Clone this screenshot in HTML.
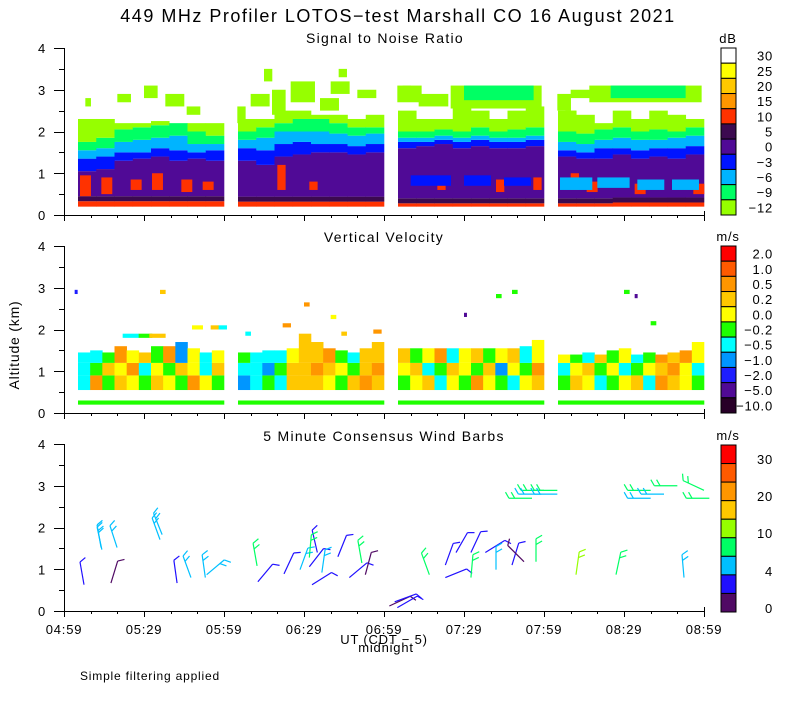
<!DOCTYPE html>
<html><head><meta charset="utf-8">
<style>
body{margin:0;background:#fff;}
svg text{font-family:"Liberation Sans",sans-serif;fill:#000;letter-spacing:0.8px;}
</style></head>
<body>
<svg id="chart" width="800" height="700" viewBox="0 0 800 700" xmlns="http://www.w3.org/2000/svg">
<rect width="800" height="700" fill="#fff"/>
<text x="398" y="22" font-size="18" text-anchor="middle" style="letter-spacing:1.5px">449 MHz Profiler LOTOS−test Marshall CO 16 August 2021</text>
<text x="385" y="43" font-size="14" text-anchor="middle" style="letter-spacing:1.3px">Signal to Noise Ratio</text>
<text x="384" y="242" font-size="14" text-anchor="middle" style="letter-spacing:1.3px">Vertical Velocity</text>
<text x="384" y="441" font-size="14" text-anchor="middle" style="letter-spacing:1.3px">5 Minute Consensus Wind Barbs</text>
<text x="0" y="0" font-size="14" text-anchor="middle" transform="translate(19,345) rotate(-90)">Altitude (km)</text>
<text x="384" y="644" font-size="13" text-anchor="middle">UT  (CDT − 5)</text>
<text x="386" y="652" font-size="13" text-anchor="middle">midnight</text>
<text x="80" y="680" font-size="12">Simple filtering applied</text>
<g id="g"></g>
</svg>
<script>
// ---- data ----
const xTickLabels = ["04:59","05:29","05:59","06:29","06:59","07:29","07:59","08:29","08:59"];
const yTickLabels = ["0","1","2","3","4"];
const blockStart = [5.25, 65.25, 125.25, 185.25];
const blockLen = 54.75;
const snrColors = ["#ffffff","#ffff00","#ffc800","#ff9600","#ff3200","#3c0a50","#500a96","#0014ff","#00b4ff","#00ff64","#96ff00"];
const snrLabels = ["30","25","20","15","10","5","0","−3","−6","−9","−12"];
const velColors = ["#ff0000","#ff5a00","#ff9600","#ffc800","#ffff00","#1eff00","#00ffff","#0096ff","#1e1eff","#500a96","#280028"];
const velLabels = ["2.0","1.0","0.5","0.2","0.0","−0.2","−0.5","−1.0","−2.0","−5.0","−10.0"];
const windColors = ["#ff0000","#ff5a00","#ff9600","#ffc800","#96ff00","#00ff64","#00c0ff","#2010ff","#500a64"];
const windLabels = ["30","20","10","4","0"];

const snrRedTop = [0.33,0.33,0.33,0.33,0.33,0.33,0.33,0.33, 0.32,0.32,0.32,0.32,0.32,0.32,0.32,0.32, 0.28,0.28,0.28,0.28,0.28,0.28,0.28,0.28, 0.28,0.28,0.28,0.3,0.3,0.3,0.3,0.3];
const snrPurpleTop = [1.05,1.1,1.3,1.35,1.4,1.3,1.35,1.3, 1.3,1.2,1.4,1.45,1.5,1.5,1.45,1.5, 1.6,1.65,1.7,1.6,1.65,1.6,1.6,1.65, 1.4,1.35,1.35,1.45,1.35,1.4,1.35,1.45];
const snrBlueTop = [1.35,1.4,1.5,1.5,1.6,1.55,1.5,1.55, 1.6,1.55,1.7,1.75,1.7,1.7,1.65,1.7, 1.75,1.75,1.8,1.75,1.8,1.75,1.75,1.8, 1.55,1.5,1.6,1.6,1.55,1.6,1.6,1.65];
const snrCyanTop = [1.55,1.6,1.75,1.8,1.85,1.9,1.7,1.7, 1.8,1.85,2.0,2.0,2.0,1.95,1.9,1.95, 1.85,1.85,1.9,1.85,1.9,1.85,1.85,1.9, 1.75,1.7,1.8,1.85,1.8,1.8,1.85,1.9];
const snrGreenTop = [1.75,1.85,2.05,2.1,2.15,2.2,2.0,1.9, 2.0,2.1,2.2,2.3,2.3,2.2,2.1,2.1, 2.0,2.0,2.05,2.0,2.1,2.0,2.05,2.1, 2.0,1.95,2.05,2.1,2.0,2.05,2.0,2.1];
const snrLimeTop = [2.3,2.3,2.2,2.2,2.25,2.2,2.2,2.2, 2.3,2.3,2.5,2.5,2.4,2.4,2.3,2.4, 2.5,2.3,2.3,2.6,2.5,2.3,2.5,2.6, 2.5,2.4,2.2,2.5,2.3,2.5,2.4,2.3];
// patches: start minute, end minute, bottom km, top km, colour index
const patchT0 = [6,14,25,33,44,52,80,92,140,162,176,190,196,214,236, 130,150,165, 186,200,215,228, 8,20,30,38,46, 65,70,78,85,96,100,110,75,103, 125,133,145,150,127, 185,190,197,205,188];
const patchT1 = [10,18,29,37,48,56,83,95,143,165,179,193,200,218,240, 145,160,175, 198,212,225,238, 10,25,35,45,51, 68,77,83,94,103,107,117,78,106, 134,144,179,176,130, 190,199,239,233,192];
const patchK0 = [0.45,0.5,0.6,0.6,0.55,0.6,0.6,0.6,0.6,0.55,0.6,0.6,0.55,0.5,0.5, 0.7,0.7,0.7, 0.6,0.65,0.6,0.6, 2.6,2.7,2.8,2.6,2.4, 2.2,2.6,2.4,2.7,2.5,2.9,2.8,3.2,3.3, 2.7,2.6,2.55,2.75,2.9, 2.5,2.8,2.7,2.8,2.3];
const patchK1 = [0.95,0.9,0.85,1.0,0.85,0.8,1.2,0.8,0.9,0.85,0.9,1.0,0.8,0.75,0.75, 0.95,0.95,0.9, 0.9,0.9,0.85,0.85, 2.8,2.9,3.1,2.9,2.6, 2.6,2.9,3.0,3.2,2.8,3.2,3.0,3.5,3.5, 3.1,2.9,3.1,3.1,3.1, 2.9,3.0,3.1,3.1,2.5];
const patchC = [4,4,4,4,4,4,4,4,4,4,4,4,4,4,4, 7,7,7, 8,8,8,8, 10,10,10,10,10, 10,10,10,10,10,10,10,10,10, 10,10,10,9,10, 10,10,10,9,10];

const velLow = [6,2,5,3,4,5,3,4,5,2,4,5, 7,6,5,6,3,3,3,4,5,3,2,3, 5,4,3,6,4,5,2,4,5,6,4,3, 5,3,4,6,5,4,3,6,2,3,4,5];
const velMid = [6,5,3,4,2,6,4,5,3,4,6,3, 6,6,7,5,3,3,2,3,4,5,3,2, 4,3,6,5,3,4,5,3,7,4,5,2, 6,4,3,5,4,6,5,4,3,2,4,6];
const velHigh = [6,6,5,2,4,3,5,2,7,4,6,4, 5,6,6,6,4,3,3,2,5,6,3,3, 3,5,4,2,6,4,3,5,4,3,6,4, 4,5,6,3,5,4,6,5,2,3,2,4];
const velTop = [1.45,1.5,1.45,1.6,1.5,1.45,1.6,1.6,1.7,1.55,1.45,1.5, 1.45,1.45,1.5,1.5,1.55,1.9,1.7,1.55,1.5,1.45,1.55,1.7, 1.55,1.55,1.55,1.55,1.55,1.55,1.55,1.55,1.55,1.55,1.6,1.75, 1.4,1.4,1.45,1.4,1.5,1.55,1.4,1.45,1.4,1.45,1.5,1.7];
const vpT = [22,28,32,48,55,58,36,4,68,82,90,116,104,100,150,162,168,210,214,220];
const vpK = [1.8,1.8,1.8,2.0,2.0,2.0,2.85,2.85,1.85,2.05,2.55,1.9,1.85,2.25,2.3,2.75,2.85,2.85,2.75,2.1];
const vpW = [6,5,6,4,3,3,2,1,2,3,2,3,2,2,1,2,2,2,1,2];
const vpC = [6,5,3,4,3,6,3,8,6,2,2,2,3,4,9,5,5,5,9,5];

// wind barbs: minute, km, speed (m/s), direction angle (deg, 0 = staff up, clockwise)
const wbT = [7.5,13.9,14.2,19.9,17.6,36,36.8,42.4,47.6,53,53.5,72.4,72.7,82.5,88.5,92,93,96.7,95,92,102.7,111.7,107,113,122,124,125, 137,143,143,147,152.6,152.6,158,162,168,172.5,177,192,207,232.5, 175.5,185,180,185,179, 220,225,220,230,240,242];
const wbK = [0.63,1.52,1.47,1.52,0.67,1.71,1.83,0.67,0.8,0.8,0.87,1.08,0.7,0.89,0.99,1.06,0.63,0.92,1.4,1.28,1.3,1.15,0.8,0.87,0.12,0.22,0.08, 0.87,1.1,0.8,1.4,1.4,0.8,1.4,0.99,1.1,1.18,1.18,0.87,0.87,0.8, 2.7,2.89,2.89,2.8,2.8, 2.89,2.8,2.7,3.0,2.89,2.7];
const wbS = [3,5,5,5,1.5,5,5,3,5,6,6,8,3,3,5,3,3,5,3,8,3,8,3,1.5,1.5,3,3, 8,3,3,3,3,8,3,5,3,1.5,8,12,8,5, 8,8,8,5,5, 8,5,5,8,8,8];
const wbA = [-10,-10,-12,-18,17,-20,-22,-8,-20,-8,50,-10,40,25,20,38,58,8,-13,5,22,-10,50,15,65,70,60, -20,20,68,30,25,5,58,0,17,-45,0,8,12,-5, -90,-90,-90,-90,-90, -90,-90,-90,-90,-65,-90];

// ---- helpers ----
const NS = "http://www.w3.org/2000/svg";
const G = document.getElementById("g");
const X0 = 64, PX_PER_MIN = 80/30, KM = 41.75;
const panelBase = [215, 413, 611];
function X(m){ return X0 + m*PX_PER_MIN; }
function Y(p,k){ return panelBase[p] - k*KM; }
function mk(tag, attrs, parent){
  const e = document.createElementNS(NS, tag);
  for (const k in attrs) e.setAttribute(k, attrs[k]);
  (parent||G).appendChild(e);
  return e;
}
function band(p,t0,t1,k0,k1,col,parent){
  if (k1<=k0) return null;
  return mk("rect",{x:X(t0).toFixed(2),y:Y(p,k1).toFixed(2),width:(X(t1)-X(t0)+0.3).toFixed(2),height:((k1-k0)*KM).toFixed(2),fill:col},parent);
}

// ---- SNR panel ----
const snrG = mk("g",{});


for (let b=0;b<4;b++){
  for (let c=0;c<8;c++){
    const i=b*8+c, w=blockLen/8, t0=blockStart[b]+c*w, t1=t0+w;
    band(0,t0,t1,0.2,snrRedTop[i],snrColors[4],snrG);
    band(0,t0,t1,snrRedTop[i],snrRedTop[i]+0.12,snrColors[5],snrG);
    band(0,t0,t1,snrRedTop[i]+0.12,snrPurpleTop[i],snrColors[6],snrG);
    band(0,t0,t1,snrPurpleTop[i],snrBlueTop[i],snrColors[7],snrG);
    band(0,t0,t1,snrBlueTop[i],snrCyanTop[i],snrColors[8],snrG);
    band(0,t0,t1,snrCyanTop[i],snrGreenTop[i],snrColors[9],snrG);
    band(0,t0,t1,snrGreenTop[i],snrLimeTop[i],snrColors[10],snrG);
  }
}
for (let i=0;i<patchT0.length;i++){
  const r = band(0,patchT0[i],patchT1[i],patchK0[i],patchK1[i],snrColors[patchC[i]],snrG);
  
}

// ---- velocity panel ----
const velG = mk("g",{});


for (let b=0;b<4;b++){
  band(1,blockStart[b],blockStart[b]+blockLen,0.2,0.3,velColors[5],velG);
  for (let c=0;c<12;c++){
    const i=b*12+c, w=blockLen/12, t0=blockStart[b]+c*w, t1=t0+w;
    band(1,t0,t1,0.55,0.9,velColors[velLow[i]],velG);
    band(1,t0,t1,0.9,1.2,velColors[velMid[i]],velG);
    band(1,t0,t1,1.2,velTop[i],velColors[velHigh[i]],velG);
  }
}
for (let i=0;i<vpT.length;i++){
  const r = band(1,vpT[i],vpT[i]+vpW[i],vpK[i],vpK[i]+0.1,velColors[vpC[i]],velG);
  
}

// ---- wind barbs ----
function windColor(s){
  if (s>=30) return windColors[0]; if (s>=25) return windColors[1]; if (s>=20) return windColors[2];
  if (s>=15) return windColors[3]; if (s>=10) return windColors[4]; if (s>=7) return windColors[5];
  if (s>=4) return windColors[6]; if (s>=2) return windColors[7]; return windColors[8];
}
for (let i=0;i<wbT.length;i++){
  const bx=X(wbT[i]), by=Y(2,wbK[i]), a=wbA[i]*Math.PI/180, L=23;
  const ex=bx+L*Math.sin(a), ey=by-L*Math.cos(a), col=windColor(wbS[i]);
  const g = mk("g",{stroke:col,"stroke-width":1.2,fill:"none"});
  
  
  mk("line",{x1:bx,y1:by,x2:ex,y2:ey},g);
  const nt = wbS[i]>=4?2:1;
  for (let t=0;t<nt;t++){
    const f=1-t*0.25, px=bx+(ex-bx)*f, py=by+(ey-by)*f, ta=a+Math.PI/3;
    mk("line",{x1:px,y1:py,x2:px+7*Math.sin(ta),y2:py-7*Math.cos(ta)},g);
  }
}

// ---- axes ----
for (let p=0;p<3;p++){
  const ax = mk("g",{stroke:"#000","stroke-width":1,fill:"none"});
  
  
  mk("line",{x1:X0+0.5,y1:Y(p,4),x2:X0+0.5,y2:panelBase[p]+0.5},ax);
  mk("line",{x1:X0,y1:panelBase[p]+0.5,x2:X(240)+0.5,y2:panelBase[p]+0.5},ax);
  mk("line",{x1:X(240)+0.5,y1:panelBase[p]+0.5,x2:X(240)+0.5,y2:panelBase[p]-4},ax);
  for (let k=0;k<=8;k++){
    const y=Math.round(Y(p,k/2))+0.5;
    mk("line",{x1:X0-(k%2?5:10),y1:y,x2:X0,y2:y},ax);
  }
  for (let m=0;m<=240;m+=10){
    const x=Math.round(X(m))+0.5;
    mk("line",{x1:x,y1:panelBase[p],x2:x,y2:panelBase[p]+(m%30?3:6)},ax);
  }
  yTickLabels.forEach((lab,k)=>{
    const t = mk("text",{x:46,y:Y(p,k)+5,"font-size":13,"text-anchor":"end"});
    
    
    t.textContent = lab;
  });
}
xTickLabels.forEach((lab,k)=>{
  const t = mk("text",{x:X(k*30),y:634,"font-size":13,"text-anchor":"middle"});
  
  
  t.textContent = lab;
});

// ---- colorbars ----
function colorbar(name, top, bottom, colors, labels, unit, labelYs){
  const g = mk("g",{});
  
  
  const h=(bottom-top)/colors.length;
  colors.forEach((c,i)=>{
    mk("rect",{x:721,y:top+i*h,width:15,height:h,fill:c,stroke:"#000","stroke-width":1},g);
  });
  const u = mk("text",{x:728,y:top-5,"font-size":13,"text-anchor":"middle"},g);
  u.textContent = unit;
  labels.forEach((l,i)=>{
    const t = mk("text",{x:773,y:(labelYs?labelYs[i]:top+(i+0.5)*h)+5,"font-size":13,"text-anchor":"end"},g);
    
    
    t.textContent = l;
  });
}
colorbar("snr-colorbar",48,215,snrColors,snrLabels,"dB");
colorbar("velocity-colorbar",246,413,velColors,velLabels,"m/s");
colorbar("wind-colorbar",445,612,windColors,windLabels,"m/s",[459,496,533,571,608]);
</script>
</body></html>
